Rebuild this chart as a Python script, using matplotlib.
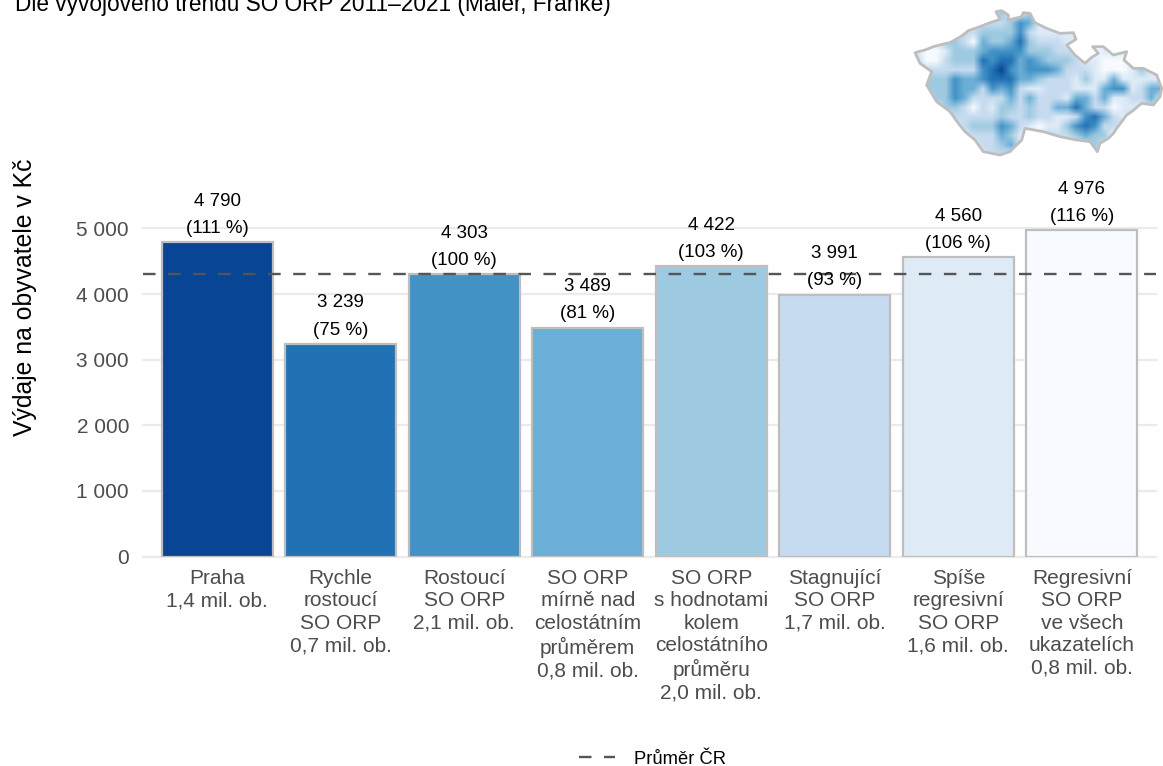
import matplotlib
matplotlib.use('Agg')
import matplotlib.pyplot as plt
from matplotlib.colors import ListedColormap
from matplotlib.patches import Polygon
import numpy as np

plt.rcParams['font.family'] = ['Liberation Sans', 'DejaVu Sans']

W, H = 1163, 766

# bars
categories = ['Praha\n1,4 mil. ob.',
              'Rychle\nrostoucí\nSO ORP\n0,7 mil. ob.',
              'Rostoucí\nSO ORP\n2,1 mil. ob.',
              'SO ORP\nmírně nad\ncelostátním\nprůměrem\n0,8 mil. ob.',
              'SO ORP\ns hodnotami\nkolem\ncelostátního\nprůměru\n2,0 mil. ob.',
              'Stagnující\nSO ORP\n1,7 mil. ob.',
              'Spíše\nregresivní\nSO ORP\n1,6 mil. ob.',
              'Regresivní\nSO ORP\nve všech\nukazatelích\n0,8 mil. ob.']
values = [4790, 3239, 4303, 3489, 4422, 3991, 4560, 4976]
percents = [111, 75, 100, 81, 103, 93, 106, 116]
colours = ['#084594', '#2171b5', '#4292c6', '#6baed6',
           '#9ecae1', '#c6dbef', '#deebf7', '#f7fbff']
average = 4303
y_ticks = [0, 1000, 2000, 3000, 4000, 5000]

# map: outline and a coarse grid of classes (index into colours)
outline_x = [45, 75, 100, 130, 150, 185, 205, 240, 270, 300, 288, 305, 325, 325, 365, 370, 390, 405,
             440, 480, 520, 528, 500, 525, 555, 575, 595, 578, 610, 640, 680, 672, 700, 730, 770, 785,
             780, 760, 725, 695, 680, 650, 640, 625, 600, 592, 570, 530, 480, 430, 375, 365, 330, 300,
             250, 225, 195, 175, 150, 110, 80, 95, 60]
outline_y = [158, 150, 140, 132, 128, 108, 92, 80, 68, 58, 35, 32, 45, 60, 50, 38, 40, 68,
             85, 100, 98, 118, 135, 165, 190, 172, 160, 140, 140, 165, 155, 180, 205, 205, 225, 265,
             290, 315, 310, 335, 345, 385, 400, 415, 430, 455, 425, 420, 410, 395, 385, 420, 455, 465,
             455, 420, 395, 370, 335, 305, 255, 215, 190]
map_rows = ['666666666466466666666666666',
            '666666655542366666666666666',
            '666665544442566666666666666',
            '666445734431455566666666666',
            '677644432222444555676666666',
            '577544412113234445667776666',
            '655555521023222355567776466',
            '644423321113345556466366666',
            '644423352325665556663226533',
            '664423555535355563353665536',
            '666445756445455331355766666',
            '666655555455455665213564666',
            '666665444235676642125556666',
            '666666555346665554344766666',
            '666666655436666666646666666',
            '666666665566666666666666666']

fig = plt.figure(figsize=(W / 100, H / 100), dpi=100)
ax = fig.add_axes([143 / W, 1 - 556.5 / H, (1156 - 143) / W, 344.5 / H])

x = np.arange(len(values))
ax.bar(x, values, width=0.9, color=colours, edgecolor='#bebebe', linewidth=1.6, zorder=2)
ax.axhline(average, color='#555555', linestyle=(0, (5.3, 5.3)), linewidth=1.7, zorder=3,
           label='Průměr ČR')

for i, v in enumerate(values):
    ax.annotate(f'{v:,}'.replace(',', ' '), (i, v), xytext=(0, 29.5), textcoords='offset points',
                ha='center', va='center', fontsize=13.5, color='black', zorder=4)
    ax.annotate(f'({percents[i]} %)', (i, v), xytext=(0, 10), textcoords='offset points',
                ha='center', va='center', fontsize=13.5, color='black', zorder=4)

ax.set_xlim(-0.6, 7.6)
ax.set_ylim(0, 5250)
ax.set_yticks(y_ticks)
ax.set_yticklabels([f'{t:,}'.replace(',', ' ') for t in y_ticks], fontsize=15, color='#4d4d4d')
ax.set_xticks(x)
ax.set_xticklabels(categories, fontsize=15, color='#4d4d4d', linespacing=1.23)
ax.tick_params(length=0, axis='both')
ax.tick_params(axis='x', pad=9)
ax.tick_params(axis='y', pad=10)
ax.grid(axis='y', color='#ebebeb', linewidth=1.6, zorder=0)
ax.set_axisbelow(True)
for g in ax.get_ygridlines():
    g.set_clip_on(False)
for s in ax.spines.values():
    s.set_visible(False)

fig.text(25 / W, 1 - 297 / H, 'Výdaje na obyvatele v Kč', rotation=90, fontsize=17.8,
         ha='center', va='center')
fig.text(15 / W, 1 - 11 / H, 'Dle vývojového trendu SO ORP 2011–2021 (Maier, Franke)',
         fontsize=16.3, ha='left', va='baseline')

handles, labels = ax.get_legend_handles_labels()
fig.legend(handles, labels, loc='center', bbox_to_anchor=(652 / W, 1 - 759 / H), frameon=False,
           fontsize=13.2, handlelength=2.0, handletextpad=1.0)

# small map top right, in zoomed picture coordinates
map_ax = fig.add_axes([900 / W, 1 - 160 / H, 263 / W, 160 / H])
map_ax.axis('off')
grid = np.array([[int(c) for c in row] for row in map_rows])
im = map_ax.imshow(grid, cmap=ListedColormap(colours), vmin=-0.5, vmax=7.5, aspect='auto',
                   interpolation='bilinear', interpolation_stage='rgba',
                   extent=(40, 40 + 27 * 28, 28 + 16 * 28, 28))
map_ax.set_xlim(0, 789)
map_ax.set_ylim(480, 0)
border = Polygon(np.column_stack([outline_x, outline_y]), closed=True, fill=False,
                 edgecolor='#bebebe', linewidth=2.0, joinstyle='round')
map_ax.add_patch(border)
im.set_clip_path(border)

plt.savefig('out.png', dpi=100)
